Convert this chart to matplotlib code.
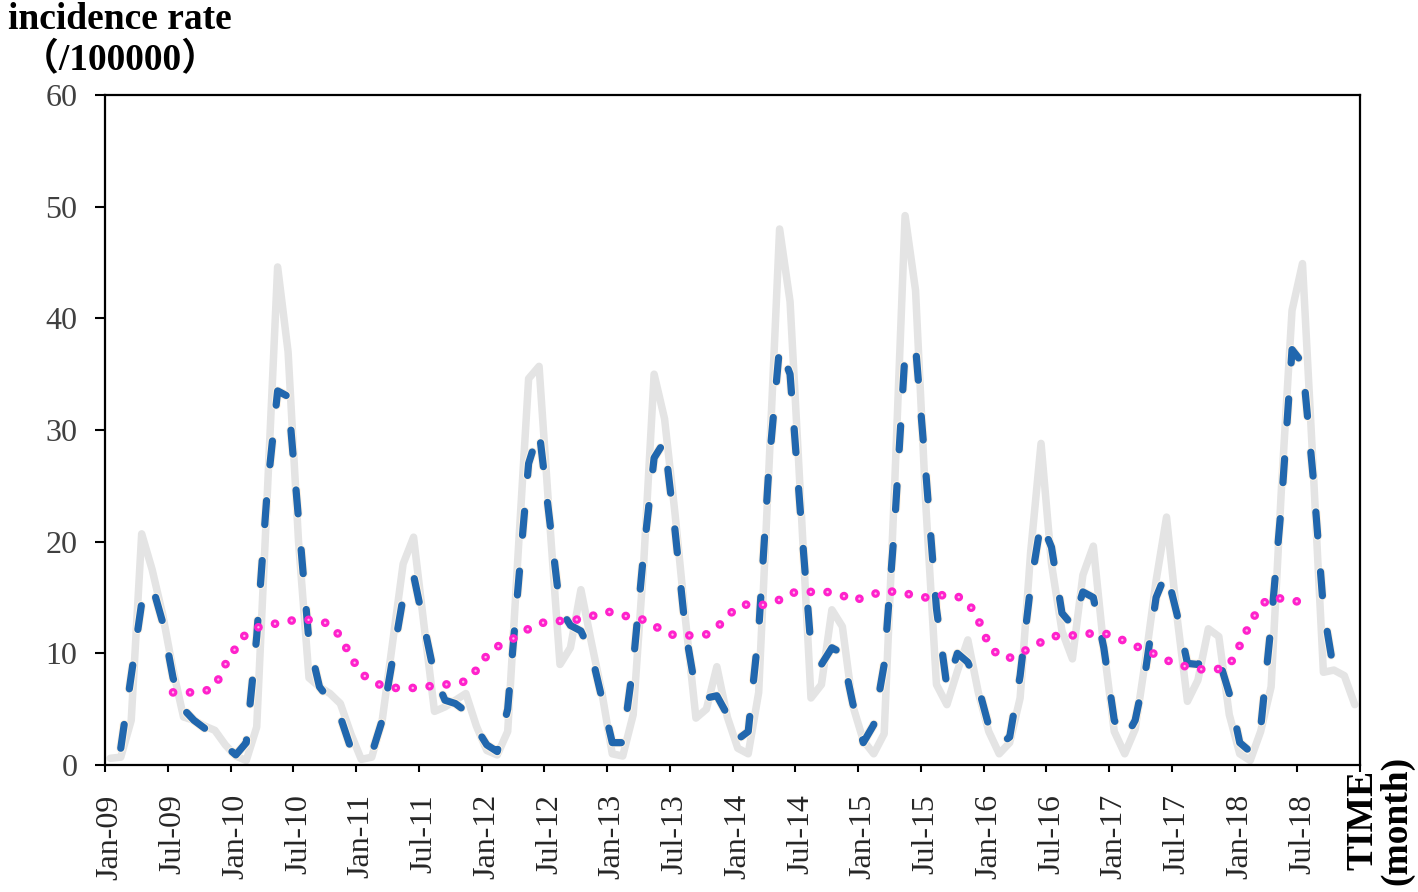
import numpy as np
import matplotlib.pyplot as plt
import matplotlib.patheffects as pe

plt.rcParams['font.family'] = ['Liberation Serif', 'Noto Sans CJK SC']
plt.rcParams['lines.scale_dashes'] = False

# monthly incidence rate, Jan-2009 .. Dec-2018 (grey, observed)
observed = [0.6, 0.7, 4.0, 20.7, 17.5, 13.5, 8.5, 4.3, 4.0, 3.5, 3.1, 1.8,
            0.8, 0.4, 3.4, 24.0, 44.6, 37.0, 20.0, 7.8, 7.0, 6.4, 5.5, 2.8,
            0.5, 0.7, 4.0, 11.0, 18.0, 20.4, 12.5, 4.8, 5.2, 5.8, 6.4, 3.5,
            1.3, 0.9, 3.0, 19.0, 34.6, 35.7, 22.0, 9.0, 10.5, 15.7, 11.0, 6.5,
            1.0, 0.8, 4.5, 18.0, 35.0, 31.0, 22.5, 13.0, 4.2, 5.0, 8.8, 4.3,
            1.5, 1.0, 6.5, 27.0, 48.0, 41.5, 24.0, 6.0, 7.2, 13.9, 12.4, 5.3,
            2.2, 1.0, 2.8, 25.0, 49.2, 42.5, 23.0, 7.2, 5.4, 8.4, 11.2, 6.5,
            3.0, 1.0, 2.0, 6.0, 19.0, 28.8, 18.0, 12.0, 9.5, 17.0, 19.6, 10.5,
            3.0, 1.0, 3.2, 9.5, 16.5, 22.2, 13.3, 5.7, 7.6, 12.2, 11.5, 4.5,
            1.0, 0.4, 3.0, 7.0, 25.0, 40.7, 44.9, 27.0, 8.3, 8.5, 8.0, 5.4]

# fitted series (blue dashed), Feb-2009 .. Oct-2018
fitted_start = 1
fitted = [1.5, 8.0, 14.5, 16.1, 12.8, 7.8, 5.0, 4.0, 3.3, 2.5, 1.7,
          0.9, 2.0, 11.5, 24.5, 33.5, 33.0, 22.0, 11.0, 7.0, 5.8, 4.3, 1.5,
          0.8, 1.0, 4.0, 9.5, 15.0, 17.0, 12.5, 8.0, 5.8, 5.5, 4.8, 3.3,
          1.8, 1.2, 5.0, 16.0, 27.0, 30.0, 22.0, 14.0, 12.5, 12.0, 10.0, 6.0,
          2.0, 2.0, 9.0, 19.0, 27.5, 29.0, 21.0, 12.0, 6.5, 6.0, 6.2, 4.5,
          2.3, 3.0, 12.0, 27.0, 37.5, 35.0, 22.5, 10.5, 9.0, 10.5, 10.0, 5.5,
          2.0, 3.6, 9.0, 21.5, 37.0, 37.5, 26.0, 14.0, 7.0, 10.0, 9.2, 7.0,
          3.5, 1.8, 2.5, 8.0, 16.0, 21.8, 19.5, 13.6, 12.5, 15.5, 15.0, 10.5,
          4.0, 2.3, 4.0, 8.5, 15.0, 17.3, 13.5, 9.1, 9.0, 9.8, 9.5, 6.4,
          2.0, 1.2, 3.3, 12.6, 23.5, 37.2, 36.0, 26.0, 14.0, 8.4]

# long-term trend (magenta dotted), Jul-2009 .. Jul-2018
trend_start = 6
trend = [6.5, 6.5, 6.5, 6.6, 7.0, 9.0,
         10.5, 11.8, 12.3, 12.5, 12.7, 12.9, 13.0, 13.0, 12.9, 12.6, 11.5, 9.7,
         8.2, 7.5, 7.1, 6.9, 6.9, 6.9, 7.0, 7.1, 7.2, 7.3, 7.5, 8.5,
         9.8, 10.6, 11.0, 11.6, 12.2, 12.7, 12.8, 12.9, 12.9, 13.1, 13.3, 13.7,
         13.7, 13.4, 13.2, 13.0, 12.5, 11.9, 11.6, 11.6, 11.6, 11.7, 12.3, 13.3,
         14.2, 14.4, 14.3, 14.4, 14.8, 15.4, 15.5, 15.5, 15.6, 15.4, 15.2, 14.7,
         15.0, 15.3, 15.6, 15.5, 15.4, 15.1, 15.0, 15.2, 15.2, 15.1, 14.6, 13.0,
         10.8, 9.7, 9.6, 10.0, 10.5, 11.0, 11.5, 11.6, 11.6, 11.7, 11.8, 11.8,
         11.5, 11.1, 10.7, 10.2, 9.9, 9.4, 9.0, 8.8, 8.6, 8.5, 8.6, 8.9,
         10.7, 12.7, 14.3, 15.0, 14.9, 14.7, 14.6]

tick_labels = ['Jan-09', 'Jul-09', 'Jan-10', 'Jul-10', 'Jan-11', 'Jul-11',
               'Jan-12', 'Jul-12', 'Jan-13', 'Jul-13', 'Jan-14', 'Jul-14',
               'Jan-15', 'Jul-15', 'Jan-16', 'Jul-16', 'Jan-17', 'Jul-17',
               'Jan-18', 'Jul-18']

n = len(observed)
x_obs = np.arange(n)
x_fit = np.arange(fitted_start, fitted_start + len(fitted))
x_trend = np.arange(trend_start, trend_start + len(trend))

fig = plt.figure(figsize=(14.18, 8.92), dpi=100)
ax = fig.add_axes([0.0741, 0.1424, 0.885, 0.7511])

ax.plot(x_obs, observed, color='#E4E4E4', lw=5.4,
        solid_joinstyle='round', solid_capstyle='round', zorder=2)

ax.plot(x_fit, fitted, color='#2167AE', lw=5.2, linestyle=(0, (17.3, 25.9)),
        dash_capstyle='round', dash_joinstyle='round', zorder=3,
        path_effects=[pe.Stroke(linewidth=6.6, foreground='#FFF3E2'), pe.Normal()])

# dotted trend: magenta dots with a light centre
ax.plot(x_trend, trend, color='#FF22CC', lw=6.3, linestyle=(0, (0.01, 12.2)),
        dash_capstyle='round', zorder=4)
ax.plot(x_trend, trend, color='#FFB8EC', lw=1.8, linestyle=(0, (0.01, 12.2)),
        dash_capstyle='round', zorder=5)

ax.set_xlim(-0.5, n - 0.5)
ax.set_ylim(0, 60)

ax.set_xticks(np.arange(0, n, 6))
ax.set_xticklabels(tick_labels, rotation=90, fontsize=23, color='#262626')
ax.set_xticks(np.arange(-0.5, n, 6), minor=True)
ax.tick_params(axis='x', which='major', length=0, pad=21)
ax.tick_params(axis='x', which='minor', length=5, width=1.5, direction='out')

ax.set_yticks(np.arange(0, 61, 10))
ax.tick_params(axis='y', labelsize=23, labelcolor='#404040', length=7,
               width=1.5, direction='out', pad=13)

for s in ax.spines.values():
    s.set_linewidth(1.6)
    s.set_color('black')

fig.text(120 / 1418, 1 - 40 / 892, 'incidence rate\n （/100000） ', ha='center', va='center',
         fontsize=27, fontweight='bold', linespacing=1.2)
fig.text(1380 / 1418, 1 - 820 / 892, 'TIME\n(month)', rotation=90, ha='center', va='center',
         multialignment='center', fontsize=27, fontweight='bold', linespacing=0.95)

fig.savefig('out.png', dpi=100)
